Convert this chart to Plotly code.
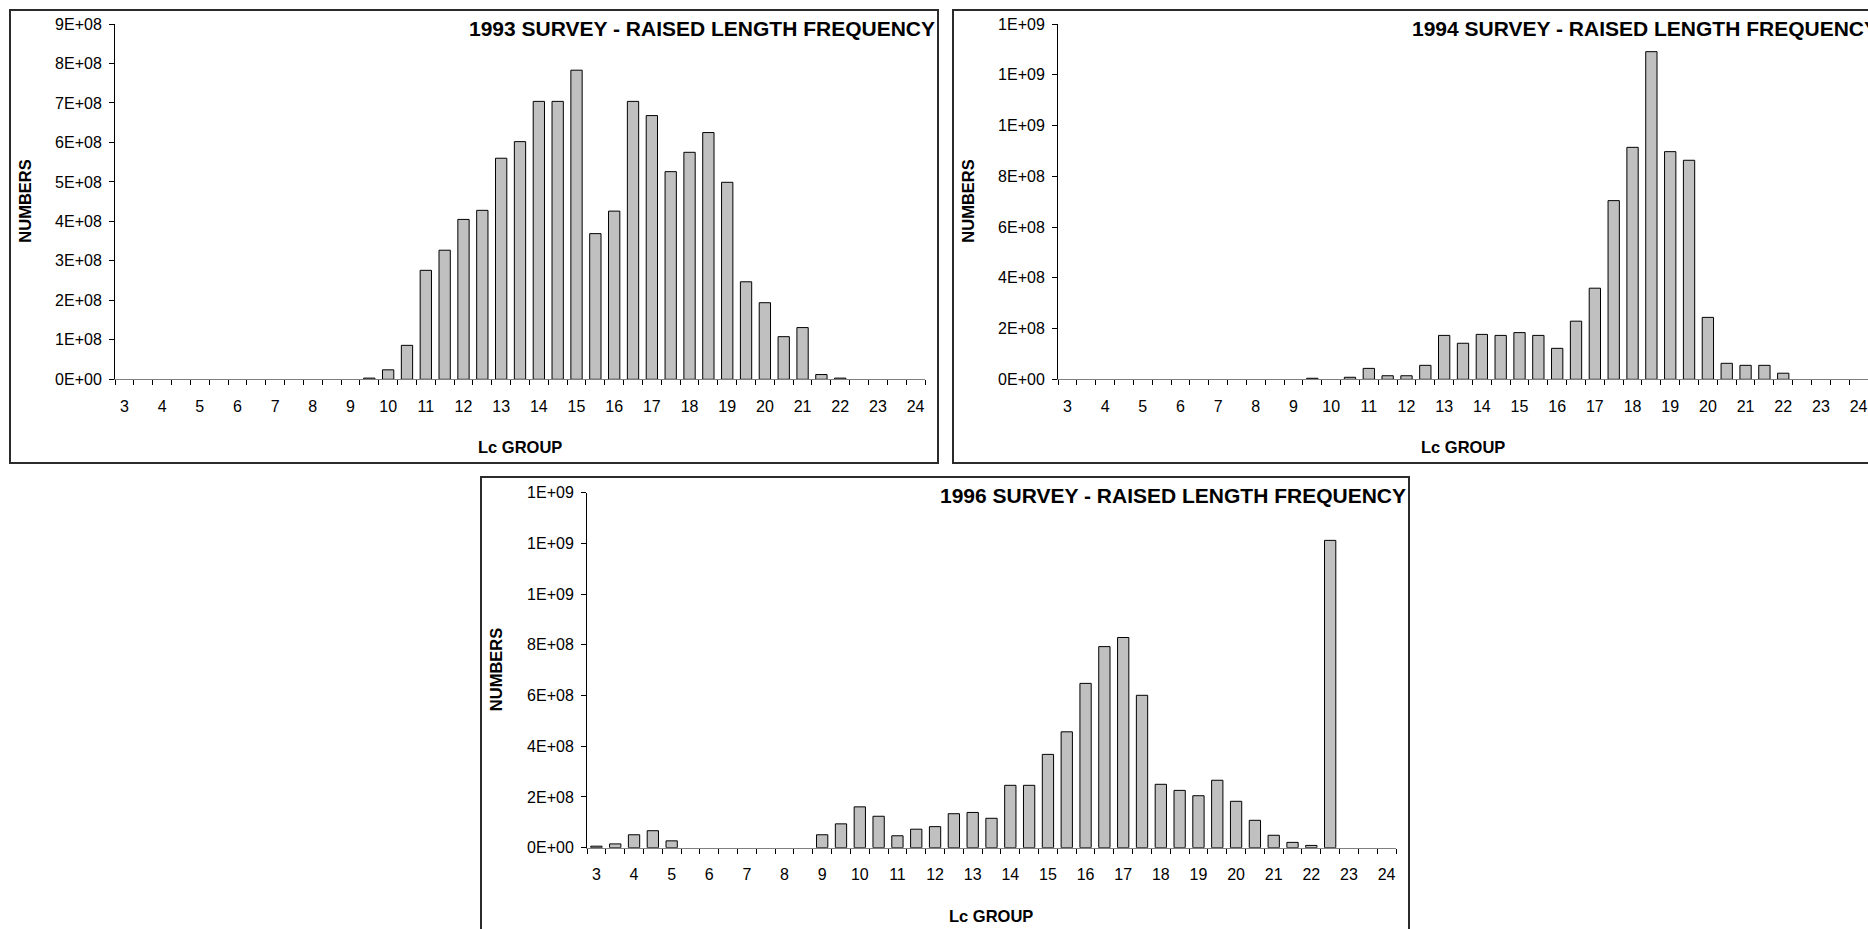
import plotly.graph_objects as go

# Length-class groups (cm), half-cm steps
LC_GROUP = [3, 3.5, 4, 4.5, 5, 5.5, 6, 6.5, 7, 7.5, 8, 8.5, 9, 9.5, 10, 10.5,
            11, 11.5, 12, 12.5, 13, 13.5, 14, 14.5, 15, 15.5, 16, 16.5, 17,
            17.5, 18, 18.5, 19, 19.5, 20, 20.5, 21, 21.5, 22, 22.5, 23, 23.5, 24]

# Raised numbers per length group, in units of 1E+08
SURVEY_1993 = [0, 0, 0, 0, 0, 0, 0, 0, 0, 0, 0, 0, 0, 0.03, 0.24, 0.86,
               2.76, 3.27, 4.05, 4.28, 5.60, 6.02, 7.04, 7.04, 7.83, 3.69, 4.26, 7.04, 6.68,
               5.26, 5.75, 6.25, 4.99, 2.47, 1.94, 1.08, 1.31, 0.12, 0.03, 0, 0, 0, 0]

SURVEY_1994 = [0, 0, 0, 0, 0, 0, 0, 0, 0, 0, 0, 0, 0, 0.04, 0, 0.08,
               0.43, 0.14, 0.14, 0.55, 1.73, 1.42, 1.77, 1.73, 1.84, 1.73, 1.22, 2.29, 3.59,
               7.04, 9.14, 12.91, 8.97, 8.63, 2.44, 0.63, 0.55, 0.55, 0.24, 0, 0, 0, 0]

SURVEY_1996 = [0.06, 0.15, 0.51, 0.67, 0.27, 0, 0, 0, 0, 0, 0, 0, 0.51, 0.94, 1.61, 1.24,
               0.47, 0.73, 0.83, 1.34, 1.39, 1.16, 2.46, 2.46, 3.68, 4.57, 6.48, 7.93, 8.29,
               6.01, 2.50, 2.26, 2.05, 2.66, 1.83, 1.08, 0.49, 0.21, 0.09, 12.12, 0, 0, 0]

SCALE = 1e8

X_TICK_VALUES = [3, 4, 5, 6, 7, 8, 9, 10, 11, 12, 13, 14, 15, 16, 17, 18, 19, 20, 21, 22, 23, 24]
X_TICK_LABELS = [str(v) for v in X_TICK_VALUES]

Y_TICKS_1993 = [0, 1e8, 2e8, 3e8, 4e8, 5e8, 6e8, 7e8, 8e8, 9e8]
Y_TICKS_1994_96 = [0, 2e8, 4e8, 6e8, 8e8, 1.0e9, 1.2e9, 1.4e9]

TITLES = ["1993 SURVEY - RAISED LENGTH FREQUENCY",
          "1994 SURVEY - RAISED LENGTH FREQUENCY",
          "1996 SURVEY - RAISED LENGTH FREQUENCY"]

W, H = 1868, 929
FONT = "Liberation Sans, Arial, Helvetica, sans-serif"


def px_x(v):
    return v / W


def px_y(v):
    return 1 - v / H


# Each panel: chart frame (left, top, right, bottom) and plot area in pixels
PANELS = [
    dict(frame=(10, 10, 938, 463), plot=(115, 24, 925, 379.3)),
    dict(frame=(953, 10, 1881, 463), plot=(1058, 24, 1868, 379.3)),
    dict(frame=(481, 477, 1409, 930), plot=(587, 492.7, 1396, 847.7)),
]

fig = go.Figure()
layout = dict(
    width=W, height=H,
    margin=dict(l=0, r=0, t=0, b=0, autoexpand=False),
    paper_bgcolor="white", plot_bgcolor="white",
    showlegend=False, bargap=0.4,
    font=dict(family=FONT, size=16, color="black"),
    shapes=[], annotations=[],
)

series = [(SURVEY_1993, Y_TICKS_1993), (SURVEY_1994, Y_TICKS_1994_96), (SURVEY_1996, Y_TICKS_1994_96)]

for i, (panel, (vals, yticks), title) in enumerate(zip(PANELS, series, TITLES)):
    n = "" if i == 0 else str(i + 1)
    fl, ft, fr, fb = panel["frame"]
    pl, pt, pr, pb = panel["plot"]

    # empty length groups get no outline so nothing is drawn on the baseline
    outline = [1 if v > 0 else 0 for v in vals]
    fig.add_trace(go.Bar(
        x=LC_GROUP, y=[v * SCALE for v in vals],
        xaxis="x" + n, yaxis="y" + n,
        marker=dict(color="#C0C0C0", line=dict(color="black", width=outline)),
    ))

    layout["xaxis" + n] = dict(
        domain=[px_x(pl), min(px_x(pr), 1.0)], anchor="y" + n,
        automargin=False,
        range=[2.75, 24.25], showgrid=False, zeroline=False,
        showline=True, linecolor="#808080", linewidth=1,
        tickmode="array", tickvals=X_TICK_VALUES, ticktext=X_TICK_LABELS,
        ticks="", ticklabelstandoff=12,
        tickfont=dict(family=FONT, size=16, color="black"),
        minor=dict(tickmode="linear", tick0=2.75, dtick=0.5, ticks="outside",
                   ticklen=5, tickcolor="black", tickwidth=1, showgrid=False),
        fixedrange=True,
    )
    layout["yaxis" + n] = dict(
        domain=[px_y(pb), px_y(pt)], anchor="x" + n,
        automargin=False,
        range=[0, yticks[-1]], showgrid=False, zeroline=False,
        showline=True, linecolor="black", linewidth=1,
        tickmode="array", tickvals=yticks, ticktext=[f"{v:.0E}" for v in yticks],
        ticks="outside", ticklen=5, tickcolor="black", tickwidth=1,
        ticklabelstandoff=4,
        tickfont=dict(family=FONT, size=16, color="black"),
        fixedrange=True,
    )

    # chart frame
    layout["shapes"].append(dict(
        type="rect", xref="paper", yref="paper",
        x0=px_x(fl), x1=px_x(fr), y0=px_y(fb), y1=px_y(ft),
        line=dict(color="#2b2b2b", width=2), fillcolor="rgba(0,0,0,0)", layer="below",
    ))
    # chart title, right-aligned inside the frame
    layout["annotations"].append(dict(
        text="<b>" + title + "</b>", xref="paper", yref="paper",
        x=px_x(fl + 927), y=px_y(ft + 18.5), xanchor="right", yanchor="middle",
        showarrow=False, font=dict(family=FONT, size=21, color="black"),
    ))
    # axis titles
    layout["annotations"].append(dict(
        text="<b>NUMBERS</b>", xref="paper", yref="paper", textangle=-90,
        x=px_x(fl + 15), y=px_y((pt + pb) / 2), xanchor="center", yanchor="middle",
        showarrow=False, font=dict(family=FONT, size=16.5, color="black"),
    ))
    layout["annotations"].append(dict(
        text="<b>Lc GROUP</b>", xref="paper", yref="paper",
        x=px_x((pl + pr) / 2), y=px_y(pb + 68), xanchor="center", yanchor="middle",
        showarrow=False, font=dict(family=FONT, size=16.5, color="black"),
    ))

fig.update_layout(**layout)
fig.write_html("out.html", config={"displayModeBar": False})
